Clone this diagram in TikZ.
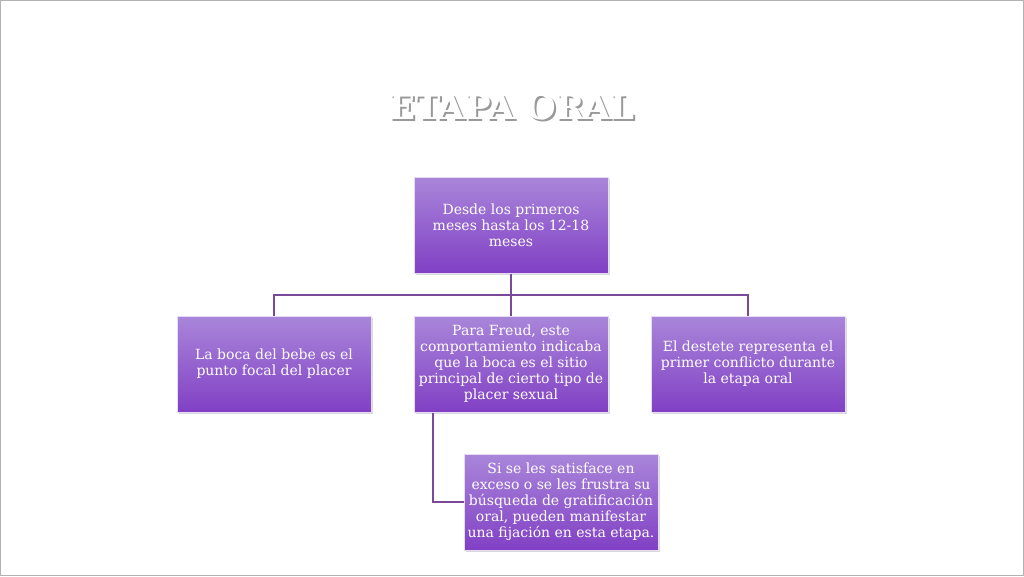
\documentclass[tikz,border=0pt]{standalone}
\usepackage{fontspec}
\setmainfont{DejaVu Serif}
\usetikzlibrary{shadows}
\definecolor{boxtop}{HTML}{A986DA}
\definecolor{boxbot}{HTML}{8140C4}
\definecolor{linkcol}{HTML}{7A4A98}
\begin{document}
\begin{tikzpicture}
	[x=1pt,y=-1pt,
	%Styles
	box/.style={draw=white!70!boxtop,line width=1pt,top color=boxtop,bottom color=boxbot,
		text=white,font=\fontsize{14}{16}\selectfont,align=center,minimum width=194pt,minimum height=96pt,inner sep=0pt,
		drop shadow={opacity=.3,shadow xshift=2pt,shadow yshift=-2pt}},
	link/.style={draw=linkcol,line width=1.2pt}
	]
	\useasboundingbox (0,0) rectangle (1024,576);
	\draw[gray!60] (0.5,0.5) rectangle (1023.5,575.5);
	
	%Title
	\node[gray!80,font=\bfseries\fontsize{34}{36}\selectfont] at (514,109) {ETAPA ORAL};
	\node[white,font=\bfseries\fontsize{34}{36}\selectfont] (title) at (512,107) {ETAPA ORAL};
	
	%The graphic
	\node[box] (top) at (511,225) {Desde los primeros\\meses hasta los 12-18\\meses};
	\node[box] (left) at (274,364) {La boca del bebe es el\\punto focal del placer};
	\node[box] (mid) at (511,364) {Para Freud, este\\comportamiento indicaba\\que la boca es el sitio\\principal de cierto tipo de\\placer sexual};
	\node[box] (right) at (748,364) {El destete representa el\\primer conflicto durante\\la etapa oral};
	\node[box] (sub) at (561,502) {Si se les satisface en\\exceso o se les frustra su\\búsqueda de gratificación\\oral, pueden manifestar\\una fijación en esta etapa.};
	
	\coordinate (bus) at (511,295);
	\draw[link] (top) -- (bus);
	\draw[link] (left.north) |- (bus) -| (right.north);
	\draw[link] (bus) -- (mid);
	\draw[link] ([xshift=-78pt]mid.south) |- (sub.west);
\end{tikzpicture}
\end{document}
